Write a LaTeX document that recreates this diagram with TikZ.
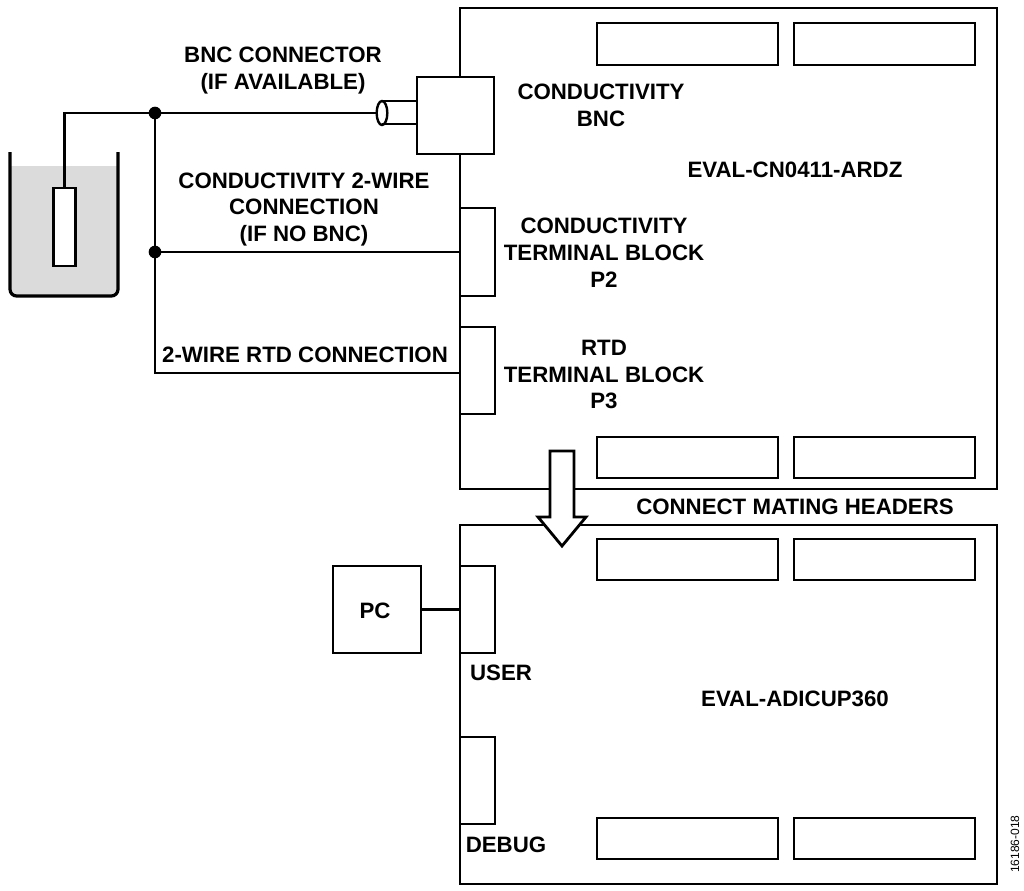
\documentclass[tikz,border=0pt]{standalone}
\usepackage{fontspec}
\usetikzlibrary{shapes.geometric}
\setmainfont{Liberation Sans}
\begin{document}
\begin{tikzpicture}[x=0.75pt,y=-0.75pt,
  line/.style={draw=black,line width=2.1pt},
  boxn/.style={line,rectangle,inner sep=0pt,outer sep=0pt,fill=white},
  lbl/.style={font=\fontsize{16.7}{20.1}\selectfont\bfseries,align=center,inner sep=0pt},
  dotn/.style={circle,fill=black,inner sep=0pt,minimum size=9.5pt}]
\useasboundingbox (0,0) rectangle (1024,890);
% boards
\draw[line] (460,8) coordinate (b1tl) rectangle (997,489) coordinate (b1br);
\draw[line] (460,525) coordinate (b2tl) rectangle (997,884) coordinate (b2br);
% headers
\foreach \n/\xa/\ya/\xb/\yb in {h1/597/23/778/65,h2/794/23/975/65,h3/597/437/778/478,h4/794/437/975/478,h5/597/539/778/580,h6/794/539/975/580,h7/597/818/778/859,h8/794/818/975/859}{
  \path[boxn] (\xa,\ya) rectangle (\xb,\yb);
}
% beaker
\fill[black!14] (10,166) -- (118,166) -- (118,290) -- (112,296) -- (16,296) -- (10,290) -- cycle;
\draw[line,line width=2.4pt,rounded corners=5pt] (10,152) -- (10,296) -- (118,296) -- (118,152);
% probe
\node[boxn,minimum width=16pt,minimum height=58.5pt] (probe) at (64.5,227) {};
% BNC
\node[boxn,minimum width=57.75pt,minimum height=57.75pt] (bnc) at (455.5,115.5) {};
\coordinate (tubeT) at (382,101);
\coordinate (tubeB) at (382,124);
\draw[line] (tubeT) -- (tubeT -| bnc.west);
\draw[line] (tubeB) -- (tubeB -| bnc.west);
\node[draw=black,ellipse,minimum width=8pt,minimum height=18pt,inner sep=0pt,outer sep=0pt,line width=1.8pt] (tube) at (382,113) {};
% terminals
\node[boxn,minimum width=26.25pt,minimum height=66pt] (p2) at (477.5,252) {};
\node[boxn,minimum width=26.25pt,minimum height=65.25pt] (p3) at (477.5,370.5) {};
\node[boxn,minimum width=26.25pt,minimum height=65.25pt] (user) at (477.5,609.5) {};
\node[boxn,minimum width=26.25pt,minimum height=65.25pt] (debug) at (477.5,780.5) {};
\node[boxn,minimum width=66pt,minimum height=65.25pt] (pc) at (377,609.5) {};
% junctions
\node[dotn] (j1) at (155,113) {};
\node[dotn] (j2) at (155,252) {};
\coordinate (p3in) at (460,373);
% wires
\draw[line] (probe.north) |- (j1.center) -- (tube.west);
\draw[line] (j1.center) -- (j2.center) |- (p3in);
\draw[line] (j2.center) -- (p2.west);
\draw[line] (pc.east) -- (user.west);
% arrow
\draw[line,fill=white,miter limit=10] (550,451) -- (574,451) -- (574,517) -- (586,517) -- (562,546) -- (538,517) -- (550,517) -- cycle;
% labels
\node[lbl] (t1) at (283,70.5) {BNC CONNECTOR\\(IF AVAILABLE)};
\node[lbl] (t2) at (601,105) {CONDUCTIVITY\\BNC};
\node[lbl] (t3) at (795,170) {EVAL-CN0411-ARDZ};
\node[lbl] (t4) at (304,209.5) {CONDUCTIVITY 2-WIRE\\CONNECTION\\(IF NO BNC)};
\node[lbl] (t5) at (604,253) {CONDUCTIVITY\\TERMINAL BLOCK\\P2};
\node[lbl] (t6) at (305,355) {2-WIRE RTD CONNECTION};
\node[lbl] (t7) at (604,374.5) {RTD\\TERMINAL BLOCK\\P3};
\node[lbl] (t8) at (795,507) {CONNECT MATING HEADERS};
\node[lbl] (t9) at (375,611) {PC};
\node[lbl] (t10) at (501,673) {USER};
\node[lbl] (t11) at (795,699) {EVAL-ADICUP360};
\node[lbl] (t12) at (506,845) {DEBUG};
\node[font=\fontsize{9}{11}\selectfont,rotate=90,inner sep=0pt] (t13) at (1015,844) {16186-018};
\end{tikzpicture}
\end{document}
